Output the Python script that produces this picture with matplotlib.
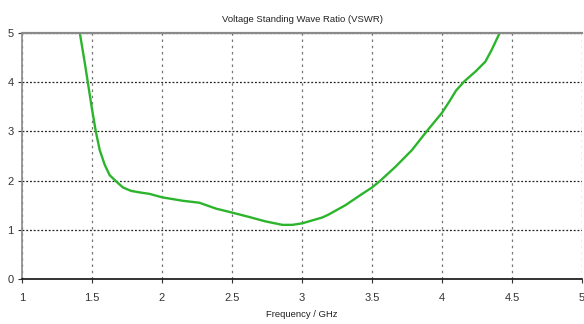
import matplotlib.pyplot as plt
from matplotlib import font_manager

# VSWR vs frequency (GHz)
freq = [1.38, 1.413, 1.448, 1.47, 1.50, 1.527, 1.555, 1.591, 1.626, 1.674, 1.721,
        1.78, 1.84, 1.911, 2.0, 2.148, 2.267, 2.386, 2.5, 2.623, 2.74, 2.86, 2.93,
        3.0, 3.145, 3.19, 3.31, 3.43, 3.5, 3.56, 3.667, 3.785, 3.89, 4.0, 4.055,
        4.10, 4.16, 4.24, 4.31, 4.355, 4.41, 4.43]
vswr = [5.6, 5.0, 4.4, 4.0, 3.45, 3.0, 2.62, 2.32, 2.11, 1.98, 1.86,
        1.79, 1.76, 1.73, 1.66, 1.59, 1.55, 1.43, 1.35, 1.26, 1.17, 1.10, 1.10,
        1.13, 1.25, 1.31, 1.50, 1.73, 1.86, 2.0, 2.28, 2.62, 3.0, 3.38, 3.62,
        3.83, 4.02, 4.22, 4.42, 4.66, 4.99, 5.3]
xticks = [1, 1.5, 2, 2.5, 3, 3.5, 4, 4.5, 5]
xticklabels = ["1", "1.5", "2", "2.5", "3", "3.5", "4", "4.5", "5"]
yticks = [0, 1, 2, 3, 4, 5]

# narrow sans if we have it
fam = 'Liberation Sans'
try:
    font_manager.findfont('Liberation Sans Narrow', fallback_to_default=False)
    fam = 'Liberation Sans Narrow'
except ValueError:
    pass
plt.rcParams['font.family'] = [fam, 'DejaVu Sans']

fig = plt.figure(figsize=(5.84, 3.24), dpi=100)
ax = fig.add_axes([0.0377, 0.139, 0.9589, 0.759])

ax.plot(freq, vswr, color="#2cb52c", lw=1.7, solid_joinstyle="round")

ax.set_xlim(1, 5)
ax.set_ylim(0, 5)
ax.set_xticks(xticks)
ax.set_xticklabels(xticklabels)
ax.set_yticks(yticks)
ax.tick_params(labelsize=8, length=3, width=0.8, colors="#333333")
ax.tick_params(axis='x', pad=7)
ax.tick_params(axis='y', pad=3)

ax.xaxis.grid(True, linestyle=(0, (2, 3)), color="#777777", lw=0.9)
ax.yaxis.grid(True, linestyle=(0, (1.5, 1.5)), color="#222222", lw=0.9)
ax.set_axisbelow(True)

ax.spines['top'].set_color("#8a8a8a")
ax.spines['top'].set_linewidth(1.6)
ax.spines['left'].set_color("#8a8a8a")
ax.spines['left'].set_linewidth(1.2)
ax.spines['bottom'].set_color("#111111")
ax.spines['bottom'].set_linewidth(1.2)
ax.spines['right'].set_visible(False)

ax.set_title("Voltage Standing Wave Ratio (VSWR)", fontsize=6.8, color="#222222", pad=8)
ax.set_xlabel("Frequency / GHz", fontsize=6.8, color="#222222", labelpad=5)

fig.savefig("out.png", dpi=100)
